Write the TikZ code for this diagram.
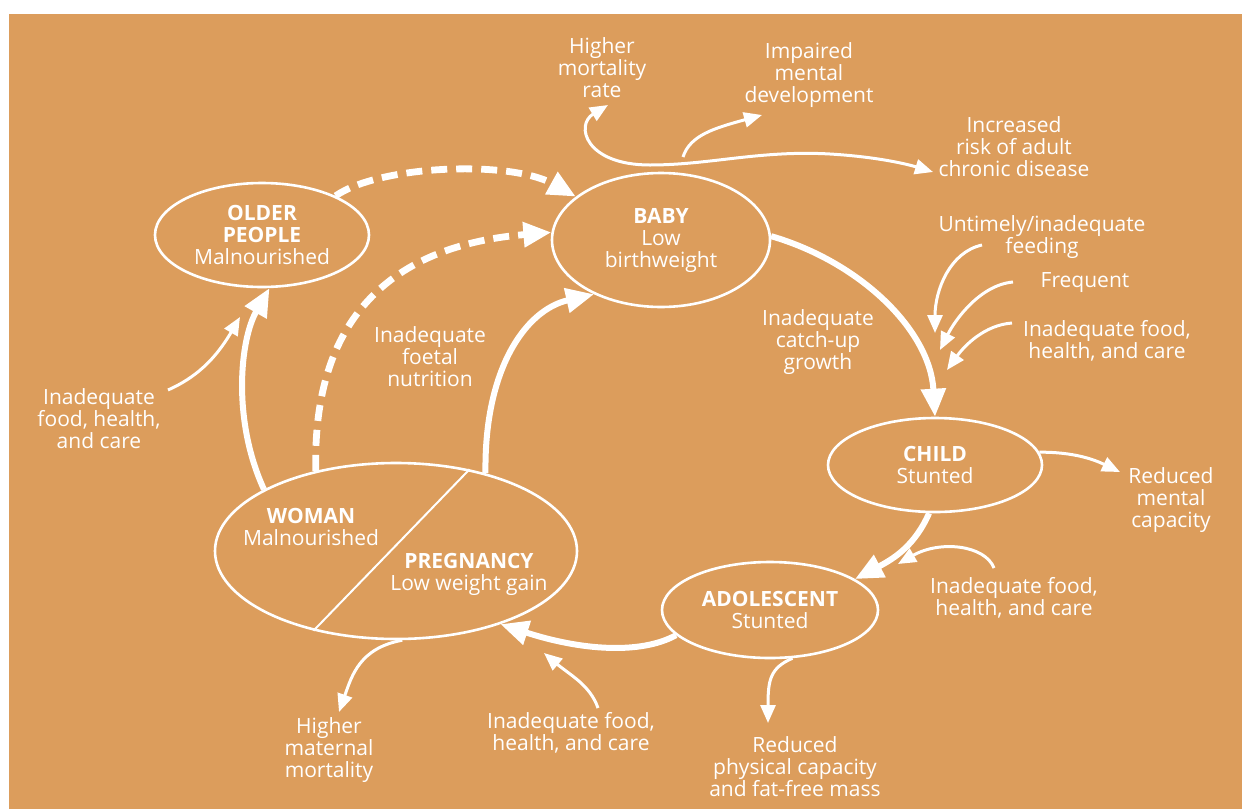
\documentclass[tikz,border=0pt]{standalone}
\usepackage{fontspec}
\setmainfont{Open Sans}
\usepackage{xcolor}
\usepackage{tikz}
\usetikzlibrary{shapes.geometric,arrows.meta}
\definecolor{bgorange}{RGB}{220,157,92}

\begin{document}
\begin{tikzpicture}[x=0.5pt,y=-0.5pt,
  stage/.style={ellipse,draw=white,line width=1.3pt,inner sep=0pt,text=white,align=center,font=\fontsize{10.5}{11}\selectfont},
  lbl/.style={text=white,align=center,inner sep=0pt,font=\fontsize{10.5}{11}\selectfont},
  flow/.style={draw=white,line width=3pt,-{Triangle[length=14pt,width=12pt]}},
  dflow/.style={flow,line width=3.4pt,dash pattern=on 8pt off 4.5pt},
  effect/.style={draw=white,line width=1.5pt,-{Triangle[length=9pt,width=7.5pt]}}]
\useasboundingbox (0,0) rectangle (1242,809);
\fill[bgorange] (9,14) rectangle (1242,809);

% life-cycle stages
\node[stage,minimum width=107pt,minimum height=52pt] (older) at (262,235) {\textbf{OLDER}\\\textbf{PEOPLE}\\Malnourished};
\node[stage,minimum width=109pt,minimum height=67pt] (baby) at (661,240) {\textbf{BABY}\\Low\\birthweight};
\node[stage,minimum width=107pt,minimum height=47pt] (child) at (935,465) {\textbf{CHILD}\\Stunted};
\node[stage,minimum width=108pt,minimum height=48pt] (adol) at (770,610) {\textbf{ADOLESCENT}\\Stunted};
\node[stage,minimum width=181pt,minimum height=88pt] (woman) at (396,551) {};
\draw[white,line width=1pt] (woman.48) -- (woman.224);
\node[lbl] (womantxt) at (311,527) {\textbf{WOMAN}\\Malnourished};
\node[lbl] (pregtxt) at (469,574) {\textbf{PREGNANCY}\\Low weight gain};

% labels
\node[lbl] (hmr) at (602,68) {Higher\\mortality\\rate};
\node[lbl] (imd) at (809,75) {Impaired\\mental\\development};
\node[lbl] (risk) at (1014,147) {Increased\\risk of adult\\chronic disease};
\node[lbl] (feed) at (1042,237) {Untimely/inadequate\\feeding};
\node[lbl] (freq) at (1085,283) {Frequent};
\node[lbl] (foodc) at (1107,341) {Inadequate food,\\health, and care};
\node[lbl] (catch) at (818,342) {Inadequate\\catch-up\\growth};
\node[lbl] (rmc) at (1171,500) {Reduced\\mental\\capacity};
\node[lbl] (fooda) at (1014,598) {Inadequate food,\\health, and care};
\node[lbl] (rpc) at (795,767) {Reduced\\physical capacity\\and fat-free mass};
\node[lbl] (foodp) at (571,733) {Inadequate food,\\health, and care};
\node[lbl] (hmm) at (329,750) {Higher\\maternal\\mortality};
\node[lbl] (foodo) at (99,419) {Inadequate\\food, health,\\and care};
\node[lbl] (foetal) at (430,357) {Inadequate\\foetal\\nutrition};

% free ends of the thin arrows
\coordinate (hmrtip) at (608,105);
\coordinate (risktip) at (933,172);
\coordinate (fork) at (683,157);
\coordinate (imdtip) at (762,115);
\coordinate (feedout) at (982,245);
\coordinate (feedin) at (935,333);
\coordinate (freqout) at (1013,282);
\coordinate (freqin) at (940,350);
\coordinate (foodcout) at (1012,323);
\coordinate (foodcin) at (947,370);
\coordinate (rmctip) at (1120,472);
\coordinate (foodaout) at (994,568);
\coordinate (foodain) at (898,564);
\coordinate (rpctip) at (768,723);
\coordinate (foodpout) at (598,708);
\coordinate (foodpin) at (544,653);
\coordinate (hmmtip) at (339,712);
\coordinate (foodoout) at (168,390);
\coordinate (foodoin) at (240,317);

% main cycle
\draw[flow] (baby.2) .. controls (860,262) and (930,330) .. (child.north);
\draw[flow] (child.263) .. controls (915,545) and (895,558) .. (adol.20);
\draw[flow] (adol.195) .. controls (640,655) and (580,650) .. (woman.-35);
\draw[flow] (woman.41) .. controls (484,370) and (525,310) .. (baby.219);
\draw[flow] (woman.155) .. controls (232,420) and (240,340) .. (older.-82);
\draw[dflow] (older.28) .. controls (380,165) and (510,160) .. (baby.153);
\draw[dflow] (woman.135) .. controls (312,310) and (400,245) .. (baby.176);

% outcomes and causes
\draw[effect,{Triangle[length=9pt,width=7.5pt]}-{Triangle[length=9pt,width=7.5pt]}] (hmrtip) .. controls (575,125) and (585,165) .. (650,165) .. controls (710,165) and (760,150) .. (830,154) .. controls (880,157) and (910,165) .. (risktip);
\draw[effect] (fork) .. controls (690,135) and (715,128) .. (imdtip);
\draw[effect] (feedout) .. controls (950,252) and (935,290) .. (feedin);
\draw[effect] (freqout) .. controls (980,285) and (955,320) .. (freqin);
\draw[effect] (foodcout) .. controls (985,325) and (965,345) .. (foodcin);
\draw[effect] (child.7) .. controls (1075,452) and (1095,460) .. (rmctip);
\draw[effect] (foodaout) .. controls (985,545) and (940,540) .. (foodain);
\draw[effect] (adol.-65) .. controls (770,668) and (768,680) .. (rpctip);
\draw[effect] (foodpout) .. controls (590,685) and (570,675) .. (foodpin);
\draw[effect] (woman.-86) .. controls (360,648) and (352,675) .. (hmmtip);
\draw[effect] (foodoout) .. controls (195,378) and (215,360) .. (foodoin);
\end{tikzpicture}
\end{document}
